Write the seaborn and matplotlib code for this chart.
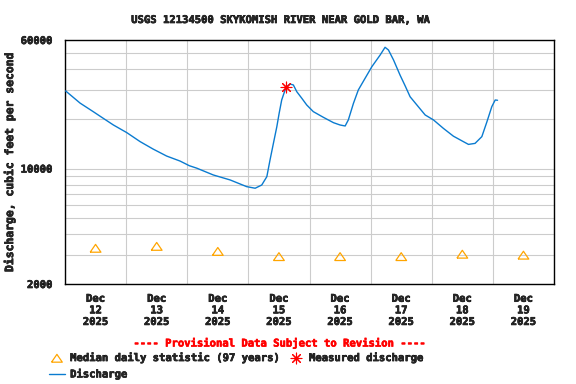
import matplotlib
matplotlib.use("Agg")
from matplotlib import pyplot as plt
from matplotlib import dates as mdates
from matplotlib import ticker
from matplotlib import patheffects as pe
import pandas as pd
import seaborn as sns

# discharge (cfs)
q_times = [
    "2025-12-12 00:15", "2025-12-12 05:55", "2025-12-12 11:05", "2025-12-12 15:00",
    "2025-12-12 19:00", "2025-12-13 00:15", "2025-12-13 05:30", "2025-12-13 10:40",
    "2025-12-13 15:55", "2025-12-13 21:10", "2025-12-14 00:50", "2025-12-14 03:45",
    "2025-12-14 10:15", "2025-12-14 16:50", "2025-12-14 23:20", "2025-12-15 02:40",
    "2025-12-15 05:15", "2025-12-15 07:15", "2025-12-15 08:30", "2025-12-15 09:50",
    "2025-12-15 11:10", "2025-12-15 12:05", "2025-12-15 13:05", "2025-12-15 14:25",
    "2025-12-15 15:05", "2025-12-15 16:20", "2025-12-15 17:40", "2025-12-15 19:00",
    "2025-12-15 21:00", "2025-12-15 22:55", "2025-12-16 01:30", "2025-12-16 05:30",
    "2025-12-16 09:25", "2025-12-16 12:00", "2025-12-16 14:00", "2025-12-16 15:15",
    "2025-12-16 17:15", "2025-12-16 19:10", "2025-12-16 21:50", "2025-12-17 00:30",
    "2025-12-17 03:45", "2025-12-17 05:40", "2025-12-17 07:00", "2025-12-17 09:00",
    "2025-12-17 11:35", "2025-12-17 13:35", "2025-12-17 15:30", "2025-12-17 18:10",
    "2025-12-17 21:25", "2025-12-18 00:40", "2025-12-18 04:35", "2025-12-18 08:30",
    "2025-12-18 12:25", "2025-12-18 14:25", "2025-12-18 17:00", "2025-12-18 19:40",
    "2025-12-18 21:40", "2025-12-18 23:35", "2025-12-19 00:55", "2025-12-19 01:50",
]
q_values = [
    29500, 24900, 22100, 20150, 18350, 16500, 14550, 13100,
    11900, 11100, 10400, 10050, 9140, 8530, 7770, 7600,
    7950, 8930, 11270, 14220, 17900, 21600, 26000, 29900,
    31300, 32500, 32050, 29200, 26600, 24250, 22100, 20400,
    18950, 18350, 18100, 19700, 24800, 29900, 35200, 41400,
    48700, 54200, 52200, 45400, 36700, 31600, 27200, 24250,
    21100, 19700, 17500, 15700, 14550, 14000, 14200, 15600,
    19200, 23700, 26000, 25900,
]

# median daily statistic (97 years)
med_days = ["2025-12-12 12:00", "2025-12-13 12:00", "2025-12-14 12:00", "2025-12-15 12:00",
            "2025-12-16 12:00", "2025-12-17 12:00", "2025-12-18 12:00", "2025-12-19 12:00"]
med_values = [3290, 3380, 3150, 2930, 2930, 2930, 3030, 2990]

# field measurement
meas_time = ["2025-12-15 14:45"]
meas_value = [31300]

flow = pd.DataFrame({"time": pd.to_datetime(q_times), "cfs": q_values})
med = pd.DataFrame({"time": pd.to_datetime(med_days), "cfs": med_values})
meas = pd.DataFrame({"time": pd.to_datetime(meas_time), "cfs": meas_value})

sns.set_style("white")
plt.rcParams["font.family"] = ["DejaVu Sans Mono"]
plt.rcParams["font.weight"] = "bold"
fs = 7.6
heavy = [pe.withStroke(linewidth=0.45, foreground="black")]

fig = plt.figure(figsize=(5.76, 3.84), dpi=100)
ax = fig.add_axes([65 / 576, 1 - 284 / 384, 489 / 576, 244 / 384])

tri = [(-1.375, -1), (1.375, -1), (0, 1), (-1.375, -1)]
sns.scatterplot(data=med, x="time", y="cfs", ax=ax, marker=tri, s=60,
                facecolor="none", edgecolor="#FFA500", linewidth=0.9,
                label="Median daily statistic (97 years)", zorder=3)
sns.lineplot(data=flow, x="time", y="cfs", ax=ax, color="#0a7bd0",
             linewidth=1.0, label="Discharge", zorder=4)
sns.scatterplot(data=meas, x="time", y="cfs", ax=ax, marker=(8, 2, 0), s=60,
                color="red", edgecolor="red", linewidth=0.8,
                label="Measured discharge", zorder=5)

ax.set_yscale("log")
ax.set_ylim(2000, 60000)
ax.set_xlim(pd.Timestamp("2025-12-12"), pd.Timestamp("2025-12-20"))

ax.yaxis.set_major_locator(ticker.FixedLocator([2000, 10000, 60000]))
ax.yaxis.set_major_formatter(ticker.FixedFormatter(["2000", "10000", "60000"]))
ax.yaxis.set_minor_locator(ticker.FixedLocator(
    [3000, 4000, 5000, 6000, 7000, 8000, 9000, 20000, 30000, 40000, 50000]))
ax.yaxis.set_minor_formatter(ticker.NullFormatter())

ax.xaxis.set_major_locator(mdates.DayLocator())
ax.xaxis.set_major_formatter(ticker.NullFormatter())
ax.xaxis.set_minor_locator(mdates.HourLocator(byhour=[12]))
ax.xaxis.set_minor_formatter(mdates.DateFormatter("%b\n%d\n%Y"))

ax.grid(True, which="both", axis="y", color="#cccccc", linewidth=0.8)
ax.grid(True, which="major", axis="x", color="#cccccc", linewidth=0.8)
ax.tick_params(axis="both", which="both", length=0, labelsize=fs)
ax.tick_params(axis="y", which="major", pad=9)
ax.tick_params(axis="x", which="minor", pad=7)
for s in ax.spines.values():
    s.set_color("black")
    s.set_linewidth(1.0)

ax.set_xlabel("")
ax.set_ylabel("Discharge, cubic feet per second", fontsize=fs + 0.6,
              fontweight="bold", labelpad=4)

fig.text(281 / 576, 1 - 20 / 384, "USGS 12134500 SKYKOMISH RIVER NEAR GOLD BAR, WA",
         ha="center", va="center", fontsize=fs, fontweight="bold", path_effects=heavy)
fig.text(280 / 576, 1 - 343 / 384, "---- Provisional Data Subject to Revision ----",
         ha="center", va="center", fontsize=fs, fontweight="bold", color="red",
         path_effects=[pe.withStroke(linewidth=0.45, foreground="red")])

handles, labels = ax.get_legend_handles_labels()
ax.get_legend().remove()
order = [labels.index("Median daily statistic (97 years)"),
         labels.index("Discharge"), labels.index("Measured discharge")]
leg = fig.legend([handles[i] for i in order], [labels[i] for i in order], ncol=2,
                 loc="upper left", bbox_to_anchor=(49 / 576, 1 - 353 / 384),
                 frameon=False, borderpad=0, borderaxespad=0, handlelength=1.5,
                 handletextpad=0.5, columnspacing=0.7, labelspacing=0.6,
                 prop={"family": "DejaVu Sans Mono", "weight": "bold", "size": fs})

texts = ax.get_xticklabels(minor=True) + ax.get_yticklabels() + [ax.yaxis.label] + leg.get_texts()
for t in texts:
    t.set_fontweight("bold")
    t.set_path_effects(heavy)

fig.savefig("out.png", dpi=100)
